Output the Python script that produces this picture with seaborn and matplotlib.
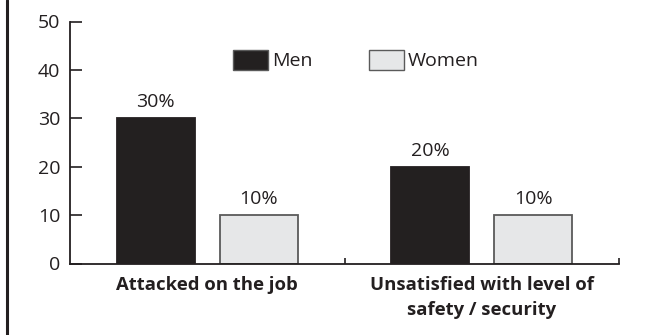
import matplotlib
matplotlib.use("Agg")
import matplotlib.pyplot as plt
from matplotlib.lines import Line2D
import seaborn as sns
import pandas as pd

categories = ["Attacked on the job", "Unsatisfied with level of\nsafety / security"]
groups = ["Men", "Women"]
men_values = [30, 20]
women_values = [10, 10]
y_ticks = [0, 10, 20, 30, 40, 50]

df = pd.DataFrame({
    "category": categories * 2,
    "sex": ["Men"] * len(categories) + ["Women"] * len(categories),
    "value": men_values + women_values,
})

sns.set_theme(style="white")
plt.rcParams["font.family"] = ["Open Sans", "DejaVu Sans"]

DARK = "#231f20"
LIGHT = "#e6e7e8"
EDGE = "#5a5a5a"

fig = plt.figure(figsize=(6.66, 3.35), dpi=100)
ax = fig.add_axes([70 / 666, 1 - 263.5 / 335, (619 - 70) / 666, (263.5 - 21.5) / 335])

sns.barplot(data=df, x="category", y="value", hue="sex", order=categories,
            hue_order=groups, palette={"Men": DARK, "Women": LIGHT},
            width=0.753, gap=0.245, linewidth=1.3, edgecolor=EDGE, ax=ax)

for c, g in zip(ax.containers, groups):
    for p in c:
        p.set_edgecolor(DARK if g == "Men" else EDGE)
    ax.bar_label(c, labels=[f"{int(v)}%" for v in c.datavalues], padding=5,
                 fontsize=14, color=DARK)

ax.set_xlim(-0.5, 1.5)
ax.set_ylim(0, 50)
ax.set_yticks(y_ticks)
ax.tick_params(axis="y", direction="in", length=8.5, width=1.2, color=DARK,
               labelsize=14, labelcolor=DARK, pad=7, left=True)
ax.set_xticks(range(len(categories)))
ax.set_xticklabels(categories, fontweight="bold", fontsize=13.3, color=DARK,
                   linespacing=1.5)
ax.tick_params(axis="x", length=0, pad=9)
ax.set_xticks([0.5, 1.5], minor=True)
ax.tick_params(axis="x", which="minor", direction="in", length=4, width=1.2,
               color=DARK, bottom=True)
ax.set_xlabel("")
ax.set_ylabel("")

sns.despine(ax=ax)
for s in ["left", "bottom"]:
    ax.spines[s].set_color(DARK)
    ax.spines[s].set_linewidth(1.3)

leg = ax.legend(loc="center", bbox_to_anchor=(356 / 666, 1 - 60 / 335),
                bbox_transform=fig.transFigure, ncol=2, frameon=False,
                fontsize=14, handlelength=1.8, handleheight=1.2,
                handletextpad=0.2, columnspacing=2.9, borderpad=0)
for t in leg.get_texts():
    t.set_color(DARK)
for h in leg.legend_handles:
    h.set_linewidth(1.0)

fig.add_artist(Line2D([7 / 666, 7 / 666], [0, 1], transform=fig.transFigure,
                      color=DARK, linewidth=2.2))

fig.savefig("out.png", dpi=100)
